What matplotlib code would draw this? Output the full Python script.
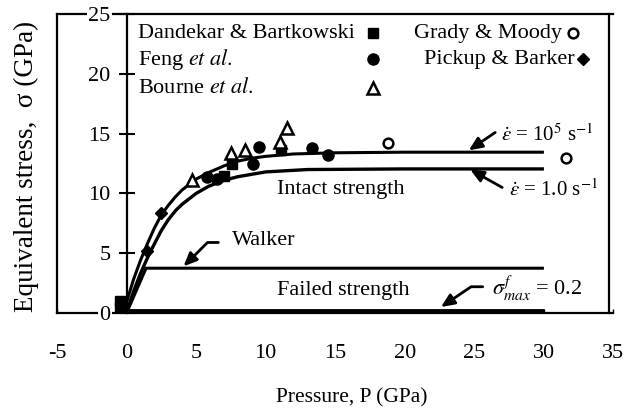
import matplotlib
matplotlib.use("Agg")
import matplotlib.pyplot as plt

plt.rcParams['font.family'] = ['Liberation Serif', 'DejaVu Serif']
plt.rcParams['mathtext.fontset'] = 'stix'

# model curves
p_fast = [0, 0.5, 1, 1.5, 2, 2.5, 3, 3.5, 4, 5, 6, 7, 8, 9, 10, 12, 15, 20, 30]
s_fast = [0.9, 2.8, 4.4, 5.8, 7.1, 8.2, 9.0, 9.7, 10.3, 11.2, 11.8, 12.3, 12.7,
          12.95, 13.1, 13.3, 13.4, 13.45, 13.45]
p_slow = [0.1, 0.5, 1, 1.5, 1.9, 2.5, 3, 3.55, 4, 5, 5.9, 7, 8, 10, 13, 20, 30]
s_slow = [0.4, 1.8, 3.3, 4.6, 5.55, 6.9, 7.8, 8.6, 9.1, 10.0, 10.6, 11.1, 11.4,
          11.8, 12.0, 12.05, 12.05]
p_walker = [0, 1.4, 30]
s_walker = [0, 3.75, 3.75]
p_failed = [0, 30]
s_failed = [0.2, 0.2]

# experimental data
dandekar_p = [-0.5, -0.5, 7.0, 7.55, 11.1]
dandekar_s = [0.5, 1.0, 11.5, 12.5, 13.6]
feng_p = [5.8, 6.5, 9.1, 9.5, 13.3, 14.5]
feng_s = [11.4, 11.2, 12.5, 13.9, 13.8, 13.2]
bourne_p = [4.7, 7.5, 8.5, 11.05, 11.5]
bourne_s = [11.1, 13.4, 13.6, 14.3, 15.45]
grady_p = [18.8, 31.6]
grady_s = [14.2, 12.95]
pickup_p = [1.5, 2.5]
pickup_s = [5.2, 8.4]

fig = plt.figure(figsize=(6.26, 4.13), dpi=100)
ax = fig.add_axes([0.091, 0.242, 0.889, 0.724])
ax.set_xlim(-5, 35)
ax.set_ylim(0, 25)

for side in ['top', 'right', 'bottom', 'left']:
    ax.spines[side].set_linewidth(1.6)
ax.spines['left'].set_position(('data', 0))
ax.spines['right'].set_position(('data', 34.7))
ax.plot([-5, -5], [0, 25], color='k', lw=1.6, clip_on=False)

ax.set_xticks([-5, 0, 5, 10, 15, 20, 25, 30, 35])
ax.set_xticklabels(['-5', '0', '5', '10', '15', '20', '25', '30', '35'])
ax.set_yticks([0, 5, 10, 15, 20, 25])
ax.tick_params(axis='x', direction='in', length=3, width=1, pad=22, labelsize=16)
ax.tick_params(axis='y', direction='inout', length=11, width=1.5, pad=6, labelsize=16)
ax.set_axisbelow(False)
for lab in ax.get_yticklabels():
    lab.set_bbox(dict(facecolor='white', edgecolor='none', pad=1))

ax.set_xlabel('Pressure, P (GPa)', fontsize=15.5)
ax.xaxis.set_label_coords(0.53, -0.285, transform=ax.transAxes)
ax.xaxis.label.set_va('center')
ax.set_ylabel('Equivalent stress,  σ (GPa)', fontsize=19.5)
ax.yaxis.set_label_coords(-0.033, 0.49)

lk = dict(color='k', solid_capstyle='butt', clip_on=False)
ax.plot(p_fast, s_fast, lw=2.2, **lk)
ax.plot(p_slow, s_slow, lw=2.4, **lk)
ax.plot(p_walker, s_walker, lw=2.2, **lk)
ax.plot(p_failed, s_failed, lw=3.5, **lk)

ax.plot(dandekar_p, dandekar_s, 's', color='k', ms=7, clip_on=False)
ax.plot(feng_p, feng_s, 'o', color='k', ms=8, clip_on=False)
ax.plot(bourne_p, bourne_s, '^', mfc='white', mec='k', mew=1.8, ms=8, clip_on=False)
ax.plot(grady_p, grady_s, 'o', mfc='white', mec='k', mew=1.8, ms=7, clip_on=False)
ax.plot(pickup_p, pickup_s, 'D', color='k', ms=6.5, clip_on=False)

# legend written out as in the original
fs = 16
ax.text(0.8, 23.4, 'Dandekar & Bartkowski', fontsize=fs, va='center')
ax.text(0.8, 21.2, r'Feng $\mathit{et\ al.}$', fontsize=fs, va='center')
ax.text(0.8, 18.8, r'Bourne $\mathit{et\ al.}$', fontsize=fs, va='center')
ax.plot([17.7], [23.4], 's', color='k', ms=7)
ax.plot([17.7], [21.2], 'o', color='k', ms=8)
ax.plot([17.7], [18.8], '^', mfc='white', mec='k', mew=1.8, ms=8)
ax.text(31.3, 23.4, 'Grady & Moody', fontsize=fs, va='center', ha='right')
ax.text(32.2, 21.2, 'Pickup & Barker', fontsize=fs, va='center', ha='right')
ax.plot([32.1], [23.4], 'o', mfc='white', mec='k', mew=1.8, ms=7)
ax.plot([32.8], [21.2], 'D', color='k', ms=6.5)

# curve labels and arrows
ap = dict(arrowstyle='-|>,head_length=0.8,head_width=0.35', color='k', lw=2,
          shrinkA=0, shrinkB=0)
ax.text(15.4, 10.3, 'Intact strength', fontsize=fs, ha='center', va='center')
ax.text(7.6, 6.1, 'Walker', fontsize=fs, va='center')
ax.annotate('', xy=(4.1, 3.9), xytext=(6.6, 5.9),
            arrowprops=dict(connectionstyle='angle,angleA=0,angleB=45,rad=0', **ap))
ax.text(10.8, 1.9, 'Failed strength', fontsize=fs, va='center')
ax.text(26.3, 2.1, r'$\sigma^{f}_{max}$ = 0.2', fontsize=fs, va='center')
ax.annotate('', xy=(22.6, 0.5), xytext=(25.6, 2.2),
            arrowprops=dict(connectionstyle='angle,angleA=0,angleB=34,rad=0', **ap))
ax.text(26.9, 14.9, r'$\dot{\varepsilon}$ = 10$^5$ s$^{-1}$', fontsize=15, va='center')
ax.annotate('', xy=(24.6, 13.6), xytext=(26.5, 15.1), arrowprops=ap)
ax.text(27.5, 10.3, r'$\dot{\varepsilon}$ = 1.0 s$^{-1}$', fontsize=15, va='center')
ax.annotate('', xy=(24.7, 12.0), xytext=(27.0, 10.5), arrowprops=ap)

fig.savefig('out.png', dpi=100)
